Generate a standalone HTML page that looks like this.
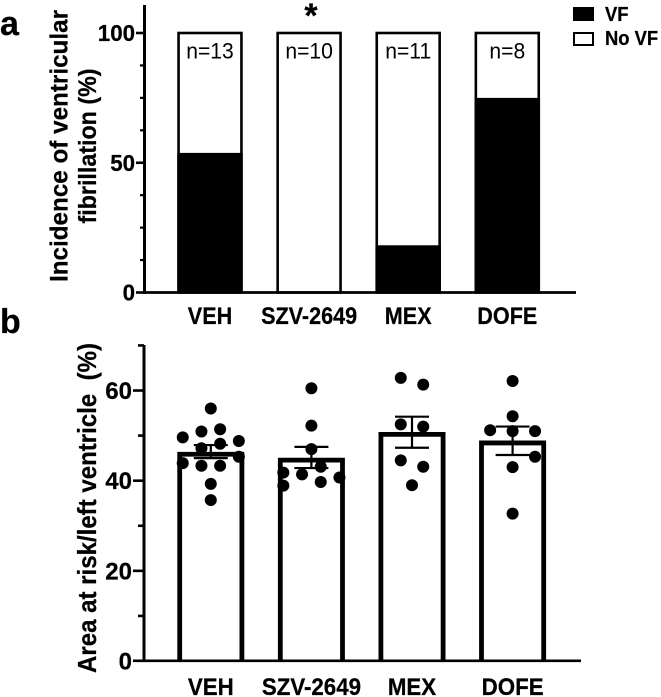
<!DOCTYPE html>
<html>
<head>
<meta charset="utf-8">
<title>VF incidence and area at risk</title>
<style>
html,body{margin:0;padding:0;background:#fff;}
svg{display:block;}
text{font-family:"Liberation Sans",Arial,sans-serif;fill:#000;}
.b{font-weight:700;stroke:#000;stroke-width:0.25;}
</style>
</head>
<body>
<svg id="chart" width="661" height="697" viewBox="0 0 661 697" xmlns="http://www.w3.org/2000/svg">
  <text class="b" x="0" y="35" font-size="34">a</text>
  <text class="b" x="0" y="333" font-size="34">b</text>
  <text class="b" font-size="25" text-anchor="middle" textLength="272" lengthAdjust="spacingAndGlyphs" transform="translate(67.5,146) rotate(-90)">Incidence of ventricular</text>
  <text class="b" font-size="25" text-anchor="middle" textLength="155" lengthAdjust="spacingAndGlyphs" transform="translate(96,146) rotate(-90)">fibrillation (%)</text>
  <text class="b" font-size="26" text-anchor="middle" textLength="330" lengthAdjust="spacingAndGlyphs" xml:space="preserve" transform="translate(96,508) rotate(-90)">Area at risk/left ventricle  (%)</text>
  <text class="b" x="311" y="27" font-size="34" text-anchor="middle">*</text>
  <rect x="573" y="7" width="21" height="14" fill="#000"/>
  <text class="b" font-size="20" transform="translate(605,21) scale(.92,1)">VF</text>
  <rect x="574" y="33" width="19" height="12" fill="#fff" stroke="#000" stroke-width="2"/>
  <text class="b" font-size="20" transform="translate(605,45) scale(.92,1)">No VF</text>
  <g id="panel-a"></g>
  <g id="panel-b"></g>
</svg>
<script>
var groups = ['VEH', 'SZV-2649', 'MEX', 'DOFE'];
var vfPercent = [53.8, 0, 18.2, 75];
var sampleSizes = [13, 10, 11, 8];
var aMajorTicks = [0, 50, 100];
var aMinorTicks = [12.5, 25, 37.5, 62.5, 75, 87.5];
var bMajorTicks = [0, 20, 40, 60];
var bMinorTicks = [10, 30, 50, 70];
var areaMeans = [46.4, 45.1, 50.8, 48.9];
var areaSemLow = [45.0, 42.8, 47.3, 45.7];
var areaSemHigh = [47.9, 47.5, 54.2, 52.0];
var areaVeh = [56.0, 49.6, 50.9, 51.4, 48.8, 48.2, 47.2, 45.3, 43.9, 43.3, 43.3, 39.3, 35.7];
var areaSzv = [60.5, 52.2, 47.0, 43.1, 41.4, 41.8, 38.9, 39.7, 40.7];
var areaMex = [62.8, 61.3, 52.5, 52.0, 44.5, 43.1, 39.0];
var areaDofe = [62.1, 54.3, 51.2, 51.0, 51.0, 45.3, 43.0, 32.7];
var swarmVeh = [0, -3, -1, 1, 3, 1, -1, 3, -3, -1, 1, 0, 0];
var swarmSzv = [0, 0, 0, 1, -1, -3, -3, 1, 3];
var swarmMex = [-1.2, 1.2, -1.2, 1.2, -1.2, 1.2, 0];
var swarmDofe = [0, 0, -2.4, 0, 2.4, 2.4, 0, 0];

var NS = 'http://www.w3.org/2000/svg';
var panelA = document.getElementById('panel-a');
var panelB = document.getElementById('panel-b');

function make(parent, tag, attrs, name) {
  var el = document.createElementNS(NS, tag);
  for (var k in attrs) el.setAttribute(k, attrs[k]);
  
  
  parent.appendChild(el);
  return el;
}
function label(parent, x, y, str, size, weight, anchor, sx, name) {
  var el = make(parent, 'text', {transform: 'translate(' + x + ',' + y + ') scale(' + sx + ',1)', 'font-size': size, 'font-weight': weight, 'text-anchor': anchor}, name);
  el.textContent = str;
  if (weight === 700) el.setAttribute('class', 'b');
  return el;
}
function ln(parent, x1, y1, x2, y2, w, name) {
  return make(parent, 'line', {x1: x1, y1: y1, x2: x2, y2: y2, stroke: '#000', 'stroke-width': w}, name);
}

/* Panel a */
function ya(v) { return 292.5 - v * 2.595; }
function xa(i) { return 210 + i * 99.1; }
var aBarW = 65.5;
groups.forEach(function (g, i) {
  var x = xa(i) - aBarW / 2;
  make(panelA, 'rect', {x: x + 1.3, y: ya(100), width: aBarW - 2.6, height: ya(0) - ya(100), fill: '#fff', stroke: '#000', 'stroke-width': 2.6}, 'bar-no-vf-' + g.toLowerCase());
  if (vfPercent[i] > 0) {
    make(panelA, 'rect', {x: x, y: ya(vfPercent[i]), width: aBarW, height: ya(0) - ya(vfPercent[i]), fill: '#000'}, 'bar-vf-' + g.toLowerCase());
  }
  label(panelA, xa(i), 58.5, 'n=' + sampleSizes[i], 22, 400, 'middle', 0.96, 'sample-size-' + g.toLowerCase());
  label(panelA, xa(i), 324, g, 24, 700, 'middle', 0.9, 'x-label-a-' + g.toLowerCase());
});
ln(panelA, 144.5, 5, 144.5, 294, 3, 'y-axis-a');
ln(panelA, 143.5, 292.5, 576, 292.5, 2.8, 'x-axis-a');
aMajorTicks.forEach(function (t) {
  ln(panelA, 136, ya(t), 144, ya(t), 2.6, 'y-major-tick-a');
  label(panelA, 135, ya(t) + 8, String(t), 23, 700, 'end', 0.97, 'y-tick-label-a');
});
aMinorTicks.forEach(function (t) {
  ln(panelA, 140, ya(t), 144, ya(t), 2.2, 'y-minor-tick-a');
});

/* Panel b */
function yb(v) { return 661 - v * 4.508; }
function xb(i) { return 210.8 + i * 100.6; }
var bBarW = 67;
var bStroke = 4.8;
var swarmUnit = 9.35;
var areaSeries = [areaVeh, areaSzv, areaMex, areaDofe];
var swarmSeries = [swarmVeh, swarmSzv, swarmMex, swarmDofe];
groups.forEach(function (g, i) {
  var x = xb(i) - bBarW / 2 + bStroke / 2;
  var top = yb(areaMeans[i]) + bStroke / 2;
  make(panelB, 'path', {d: 'M' + x + ' ' + yb(0) + 'V' + top + 'H' + (x + bBarW - bStroke) + 'V' + yb(0), fill: 'none', stroke: '#000', 'stroke-width': bStroke}, 'bar-' + g.toLowerCase());
  areaSeries[i].forEach(function (v, j) {
    make(panelB, 'circle', {cx: xb(i) + swarmSeries[i][j] * swarmUnit, cy: yb(v), r: 6, fill: '#000'}, 'point-' + g.toLowerCase());
  });
  ln(panelB, xb(i), yb(areaSemLow[i]), xb(i), yb(areaSemHigh[i]), 2.2, 'error-bar-' + g.toLowerCase());
  ln(panelB, xb(i) - 17, yb(areaSemLow[i]), xb(i) + 17, yb(areaSemLow[i]), 2.2, 'error-cap-low-' + g.toLowerCase());
  ln(panelB, xb(i) - 17, yb(areaSemHigh[i]), xb(i) + 17, yb(areaSemHigh[i]), 2.2, 'error-cap-high-' + g.toLowerCase());
  label(panelB, xb(i), 695, g, 24, 700, 'middle', 0.93, 'x-label-b-' + g.toLowerCase());
});
ln(panelB, 144, 345, 144, 662, 3, 'y-axis-b');
ln(panelB, 133, 660.8, 581, 660.8, 2.6, 'x-axis-b');
bMajorTicks.forEach(function (t) {
  if (t > 0) ln(panelB, 133, yb(t), 144, yb(t), 2.6, 'y-major-tick-b');
  label(panelB, 132, yb(t) + 8.5, String(t), 24, 700, 'end', 1, 'y-tick-label-b');
});
bMinorTicks.forEach(function (t) {
  ln(panelB, 138, yb(t), 144, yb(t), 2.6, 'y-minor-tick-b');
});
</script>
</body>
</html>
